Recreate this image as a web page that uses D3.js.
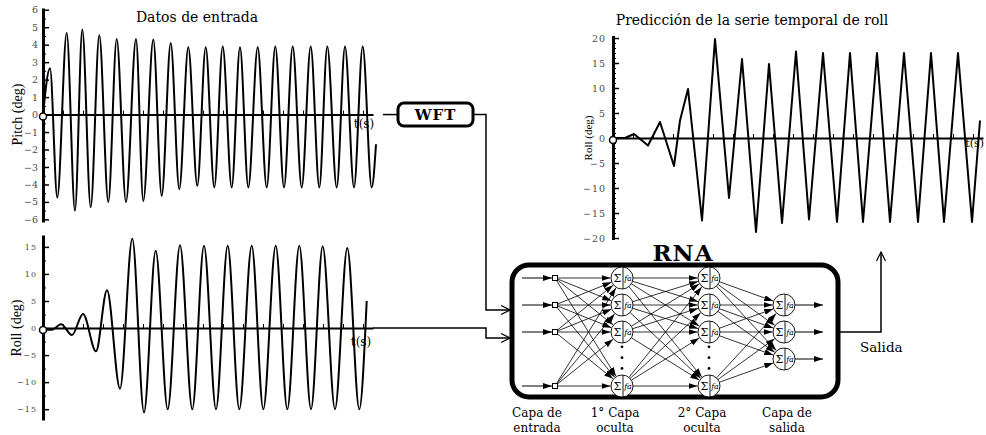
<!DOCTYPE html>
<html>
<head>
<meta charset="utf-8">
<script src="https://cdn.jsdelivr.net/npm/d3@7"></script>
<style>
  body { margin: 0; background: #fff; }
  svg { display: block; }
</style>
</head>
<body>
<div id="container"></div>
<script>
/* CONSTANTS */
const width = 986, height = 435;
const serif = "DejaVu Serif";

/* DATA */
// Datos de entrada: pitch (t en s, grados)
const pitchT = [0, 0.7, 1.43, 2.37, 3.2, 3.93, 4.77, 5.63, 6.53, 7.37, 8.3, 9.3, 10.03, 11.03, 11.87, 12.77, 13.63,
  14.53, 15.43, 16.27, 17.13, 17.97, 18.87, 19.7, 20.53, 21.47, 22.37, 23.23, 24.1, 24.97, 25.87, 26.77, 27.63,
  28.43, 29.37, 30.2, 31.1, 31.97, 32.87, 33.3];
const pitchDeg = [0, 2.65, -4.75, 4.67, -5.5, 4.87, -5.3, 4.54, -5.0, 4.33, -5.0, 4.33, -4.95, 4.29, -4.65, 4.1, -4.27,
  3.85, -4.08, 3.85, -4.17, 3.9, -4.17, 3.85, -4.17, 3.85, -4.17, 3.9, -4.17, 3.9, -4.17, 3.9, -4.17,
  3.9, -4.17, 3.9, -4.17, 3.9, -4.17, -1.7];

// Datos de entrada: roll
const rollInT = [0, 0.9, 1.8, 2.9, 4.0, 5.3, 6.4, 7.7, 8.93, 10.1, 11.27, 12.47, 13.7, 14.93, 16.1, 17.3, 18.47,
  19.63, 20.87, 22.03, 23.27, 24.43, 25.63, 26.8, 27.97, 29.2, 30.43, 31.63, 32.37];
const rollInDeg = [-0.3, -0.3, 0.7, -1.3, 2.6, -4.3, 7.0, -11.2, 16.5, -15.6, 14.3, -15.0, 15.3, -15.0, 15.2, -15.0, 15.2,
  -15.0, 15.2, -15.0, 15.2, -15.0, 15.2, -15.0, 15.1, -15.0, 14.8, -15.0, 5.0];

// Predicción de la serie temporal de roll
const rollOutT = [0, 1.2, 2.1, 3.5, 4.7, 6.1, 6.7, 7.5, 8.9, 10.2, 11.6, 12.9, 14.3, 15.6, 16.9, 18.3, 19.6,
  21.0, 22.4, 23.7, 25.0, 26.4, 27.7, 29.1, 30.5, 31.8, 33.1, 34.5, 35.9, 36.7];
const rollOutDeg = [0, 0, 0.8, -1.5, 3.2, -5.6, 3.5, 9.8, -16.5, 19.8, -12, 15.8, -18.8, 14.8, -17, 17.3, -16.3,
  17, -16.8, 17, -16.8, 17, -16.8, 17, -16.8, 17, -16.8, 17, -16.8, 3.5];

// tick labels
const pitchTicks = [-6, -5, -4, -3, -2, -1, 0, 1, 2, 3, 4, 5, 6];
const rollInTicks = [-15, -10, -5, 0, 5, 10, 15];
const rollOutTicks = [-20, -15, -10, -5, 0, 5, 10, 15, 20];

// red neuronal
const layerNames = [["Capa de", "entrada"], ["1° Capa", "oculta"], ["2° Capa", "oculta"], ["Capa de", "salida"]];
const layerSlots = [[0, 1, 2, 4], [0, 1, 2, 4], [0, 1, 2, 4], [1, 2, 3]];
const dotSlots = [2.55, 2.95, 3.35];

/* SVG */
const svg = d3.select("#container")
  .append("svg")
  .attr("width", width)
  .attr("height", height)
  .style("background", "#fff");

const defs = svg.append("defs");
defs.append("marker")
  .attr("id", "tri")
  .attr("markerUnits", "userSpaceOnUse")
  .attr("markerWidth", 9).attr("markerHeight", 6)
  .attr("refX", 9).attr("refY", 3)
  .attr("orient", "auto")
  .append("path").attr("d", "M0,0 L9,3 L0,6 Z").attr("fill", "#000");
defs.append("marker")
  .attr("id", "open")
  .attr("markerUnits", "userSpaceOnUse")
  .attr("markerWidth", 12).attr("markerHeight", 12)
  .attr("refX", 10).attr("refY", 5)
  .attr("orient", "auto")
  .append("path").attr("d", "M1,0.5 L10,5 L1,9.5").attr("fill", "none").attr("stroke", "#000").attr("stroke-width", 1.2);

/* CHART FUNCTION */
function chart(o) {
  const x = d3.scaleLinear().domain(o.xDomain).range(o.xRange);
  const y = d3.scaleLinear().domain(o.yDomain).range(o.yRange);
  const g = svg.append("g");

  // zero line with small ticks
  const xa = g.append("g")
    .attr("transform", `translate(0, ${y(0)})`)
    .call(d3.axisBottom(x).ticks(o.xTicks).tickSizeInner(-4).tickSizeOuter(0).tickFormat(""));
  xa.select(".domain").attr("stroke-width", 2);
  xa.selectAll(".tick line").attr("stroke-width", 1);

  // the series
  g.append("path")
    .datum(o.t.map((t, i) => [t, o.v[i]]))
    .attr("fill", "none")
    .attr("stroke", "#000")
    .attr("stroke-width", 2)
    .attr("stroke-linejoin", "round")
    .attr("d", d3.line().x(d => x(d[0])).y(d => y(d[1])).curve(o.curve));

  // minor ticks
  g.append("g")
    .attr("transform", `translate(${o.xRange[0]}, 0)`)
    .call(d3.axisLeft(y).tickValues(o.minor).tickSizeInner(-3).tickSizeOuter(0).tickFormat(""))
    .call(s => s.select(".domain").remove());

  // y axis
  const ya = g.append("g")
    .attr("transform", `translate(${o.xRange[0]}, 0)`)
    .call(d3.axisLeft(y).tickValues(o.ticks).tickSizeInner(-6).tickSizeOuter(0).tickPadding(o.pad));
  ya.select(".domain").attr("stroke-width", 3);
  ya.selectAll(".tick line").attr("stroke-width", 1.5);
  ya.selectAll("text")
    .attr("font-family", serif)
    .attr("font-size", o.tickFont)
    .attr("fill", "#4a4a4a")
    .attr("letter-spacing", o.spacing);

  // origin marker
  g.append("circle")
    .attr("cx", x(0)).attr("cy", y(0) + 2)
    .attr("r", 3.5)
    .attr("fill", "#fff").attr("stroke", "#000").attr("stroke-width", 1.5);

  // y label
  g.append("text")
    .attr("transform", `translate(${o.labelX}, ${y(0)}) rotate(-90)`)
    .attr("text-anchor", "middle")
    .attr("font-family", "Liberation Serif")
    .attr("font-size", o.labelFont)
    .text(o.label);

  // t(s)
  g.append("text")
    .attr("x", o.tsX).attr("y", y(0) + o.tsDy)
    .attr("text-anchor", o.tsAnchor)
    .attr("font-family", serif)
    .attr("font-size", o.tsFont)
    .text("t(s)");

  return { x, y };
}

const pitch = chart({
  t: pitchT, v: pitchDeg, xDomain: [0, 33], xRange: [43, 373],
  yDomain: [-6.15, 6.1], yRange: [222, 8],
  ticks: pitchTicks, minor: [-5.5, -4.5, -3.5, -2.5, -1.5, -0.5, 0.5, 1.5, 2.5, 3.5, 4.5, 5.5],
  xTicks: 11, pad: 5, tickFont: 9.5, spacing: 0, label: "Pitch (deg)", labelX: 22, labelFont: 14,
  curve: d3.curveMonotoneX, tsX: 364, tsDy: 13, tsAnchor: "middle", tsFont: 12
});

const rollIn = chart({
  t: rollInT, v: rollInDeg, xDomain: [0, 33], xRange: [43, 373],
  yDomain: [-17, 17.2], yRange: [420, 235],
  ticks: rollInTicks, minor: [-12.5, -7.5, -2.5, 2.5, 7.5, 12.5],
  xTicks: 11, pad: 6, tickFont: 8, spacing: 1, label: "Roll (deg)", labelX: 21, labelFont: 14,
  curve: d3.curveMonotoneX, tsX: 361, tsDy: 18, tsAnchor: "middle", tsFont: 12
});

const rollOut = chart({
  t: rollOutT, v: rollOutDeg, xDomain: [0, 37], xRange: [613, 983],
  yDomain: [-20.3, 20.5], yRange: [239.5, 35.5],
  ticks: rollOutTicks, minor: [-19, -18, -17, -16, -14, -13, -12, -11, -9, -8, -7, -6, -4, -3, -2, -1,
    1, 2, 3, 4, 6, 7, 8, 9, 11, 12, 13, 14, 16, 17, 18, 19],
  xTicks: 12, pad: 7, tickFont: 9.5, spacing: 1, label: "Roll (deg)", labelX: 592, labelFont: 11,
  curve: d3.curveLinear, tsX: 984, tsDy: 9, tsAnchor: "end", tsFont: 11
});

/* TITLES */
svg.append("text")
  .attr("x", 197).attr("y", 22)
  .attr("text-anchor", "middle")
  .attr("font-family", serif).attr("font-size", 14)
  .text("Datos de entrada");

svg.append("text")
  .attr("x", 752).attr("y", 25)
  .attr("text-anchor", "middle")
  .attr("font-family", serif).attr("font-size", 14)
  .text("Predicción de la serie temporal de roll");

/* WFT BOX AND CONNECTORS */
const wftY = pitch.y(0);
svg.append("line")
  .attr("x1", 383).attr("x2", 398).attr("y1", wftY).attr("y2", wftY)
  .attr("stroke", "#000").attr("stroke-width", 1.5);
svg.append("rect")
  .attr("x", 398).attr("y", wftY - 11.5).attr("width", 75).attr("height", 23)
  .attr("rx", 6)
  .attr("fill", "#fff").attr("stroke", "#000").attr("stroke-width", 3);
svg.append("text")
  .attr("x", 435.5).attr("y", wftY + 5.5)
  .attr("text-anchor", "middle")
  .attr("font-family", serif).attr("font-weight", "bold").attr("font-size", 15)
  .attr("letter-spacing", 1)
  .text("WFT");

const rollY = rollIn.y(0);
const connectors = [
  [[473, wftY], [486, wftY], [486, 310], [510, 310]],
  [[373, rollY], [486, rollY], [486, 338], [510, 338]],
  [[838, 332], [881, 332], [881, 252]]
];
svg.selectAll("path.conn")
  .data(connectors)
  .join("path")
  .attr("class", "conn")
  .attr("d", d3.line())
  .attr("fill", "none")
  .attr("stroke", "#000")
  .attr("stroke-width", 1.5)
  .attr("marker-end", "url(#open)");

/* NEURAL NETWORK */
const net = svg.append("g");
const layerX = d3.scaleOrdinal().domain([0, 1, 2, 3]).range([555, 622, 709, 784]);
const slotY = d3.scaleLinear().domain([0, 4]).range([278, 386]);
const r = 11;

net.append("rect")
  .attr("x", 512).attr("y", 265).attr("width", 326).attr("height", 132)
  .attr("rx", 17)
  .attr("fill", "none").attr("stroke", "#000").attr("stroke-width", 5);

net.append("text")
  .attr("x", 683).attr("y", 261)
  .attr("text-anchor", "middle")
  .attr("font-family", serif).attr("font-weight", "bold").attr("font-size", 23)
  .attr("letter-spacing", 1)
  .text("RNA");

const nodes = layerSlots.map((slots, li) => slots.map(s => ({ li, x: layerX(li), y: slotY(s) })));

// connections between layers
const links = [];
for (let li = 0; li < nodes.length - 1; li++) {
  nodes[li].forEach(a => nodes[li + 1].forEach(b => links.push([a, b])));
}
net.selectAll("line.link")
  .data(links)
  .join("line")
  .attr("class", "link")
  .each(function ([a, b]) {
    const dx = b.x - a.x, dy = b.y - a.y, len = Math.hypot(dx, dy);
    const ux = dx / len, uy = dy / len;
    const ra = a.li === 0 ? 2.5 : r;
    d3.select(this)
      .attr("x1", a.x + ux * ra).attr("y1", a.y + uy * ra)
      .attr("x2", b.x - ux * (r + 0.5)).attr("y2", b.y - uy * (r + 0.5));
  })
  .attr("stroke", "#000")
  .attr("stroke-width", 0.8)
  .attr("marker-end", "url(#tri)");

// input arrows
net.selectAll("line.in")
  .data(nodes[0])
  .join("line")
  .attr("class", "in")
  .attr("x1", 522).attr("x2", d => d.x - 3)
  .attr("y1", d => d.y).attr("y2", d => d.y)
  .attr("stroke", "#000").attr("stroke-width", 1)
  .attr("marker-end", "url(#tri)");

// output arrows
net.selectAll("line.out")
  .data(nodes[3])
  .join("line")
  .attr("class", "out")
  .attr("x1", d => d.x + r).attr("x2", 823)
  .attr("y1", d => d.y).attr("y2", d => d.y)
  .attr("stroke", "#000").attr("stroke-width", 1)
  .attr("marker-end", "url(#tri)");

// input squares
net.selectAll("rect.inp")
  .data(nodes[0])
  .join("rect")
  .attr("class", "inp")
  .attr("x", d => d.x - 2.5).attr("y", d => d.y - 2.5)
  .attr("width", 5).attr("height", 5)
  .attr("fill", "#fff").attr("stroke", "#000").attr("stroke-width", 1);

// neurons
const neurons = net.selectAll("g.neuron")
  .data(nodes.slice(1).flat())
  .join("g")
  .attr("class", "neuron")
  .attr("transform", d => `translate(${d.x}, ${d.y})`);
neurons.append("circle")
  .attr("r", r)
  .attr("fill", "#fff").attr("stroke", "#000").attr("stroke-width", 0.9);
neurons.append("line")
  .attr("x1", 1).attr("x2", 1).attr("y1", -r).attr("y2", r)
  .attr("stroke", "#000").attr("stroke-width", 0.9);
neurons.append("text")
  .attr("x", -4.5).attr("y", 4)
  .attr("text-anchor", "middle")
  .attr("font-family", serif).attr("font-size", 11)
  .text("Σ");
neurons.append("text")
  .attr("x", 6).attr("y", 3)
  .attr("text-anchor", "middle")
  .attr("font-family", serif).attr("font-style", "italic").attr("font-size", 8)
  .text("fa");

// dots in hidden layers
net.selectAll("circle.dot")
  .data([1, 2].flatMap(li => dotSlots.map(s => ({ x: layerX(li), y: slotY(s) }))))
  .join("circle")
  .attr("class", "dot")
  .attr("cx", d => d.x).attr("cy", d => d.y)
  .attr("r", 1.4)
  .attr("fill", "#000");

// layer labels
const labelShift = [-18, -7, -7, 3];
const labels = net.selectAll("text.layer")
  .data(layerNames)
  .join("text")
  .attr("class", "layer")
  .attr("font-family", serif).attr("font-size", 12);
labels.append("tspan")
  .attr("x", (d, i) => layerX(i) + labelShift[i]).attr("y", 417)
  .attr("text-anchor", "middle")
  .text(d => d[0]);
labels.append("tspan")
  .attr("x", (d, i) => layerX(i) + labelShift[i]).attr("y", 432)
  .attr("text-anchor", "middle")
  .text(d => d[1]);

svg.append("text")
  .attr("x", 860).attr("y", 352)
  .attr("font-family", serif).attr("font-size", 13.5)
  .text("Salida");
</script>
</body>
</html>
